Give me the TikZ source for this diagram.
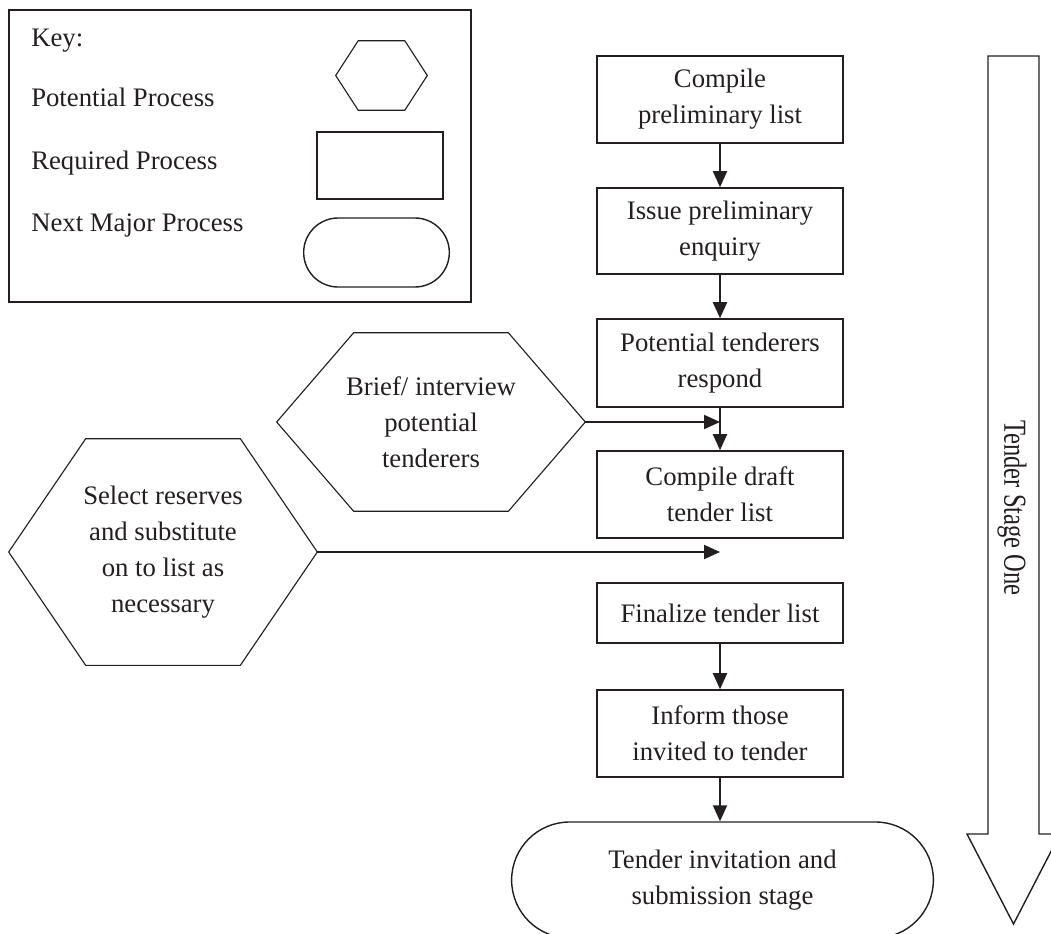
\documentclass[tikz,border=0pt]{standalone}
\usepackage{fontspec}
\setmainfont{Liberation Serif}
\usetikzlibrary{calc,arrows.meta,shapes.misc}
\definecolor{ink}{HTML}{231F20}

\begin{document}
\begin{tikzpicture}[x=0.025cm,y=-0.025cm,
  every node/.style={font=\fontsize{19}{25.5}\selectfont,text=ink},
  req/.style={draw=ink,line width=1.1pt,minimum width=6.15cm,inner sep=0pt,align=center},
  pot/.style={inner sep=0pt,align=center},
  flow/.style={draw=ink,line width=1.4pt,-{Triangle[length=0.4cm,width=0.35cm]}}]

\useasboundingbox (0,0) rectangle (1051,933);

% ---- the key ----
\draw[ink,line width=1pt] (9,10) rectangle (471,302);
\node[anchor=base west,inner sep=0pt] (keytitle) at (31,47) {Key:};
\node[anchor=base west,inner sep=0pt] (keypot) at (31,107) {Potential Process};
\node[anchor=base west,inner sep=0pt] (keyreq) at (31,169) {Required Process};
\node[anchor=base west,inner sep=0pt] (keynext) at (31,231) {Next Major Process};
\node[pot,minimum width=2.275cm,minimum height=1.725cm] (keyhex) at (381.5,75.5) {};
\node[draw=ink,line width=1pt,minimum width=3.15cm,minimum height=1.675cm] (keyrect) at (380,165.5) {};
\node[draw=ink,line width=1pt,rounded rectangle,minimum width=3.875cm,minimum height=1.725cm] (keystadium) at (376.5,252.5) {};

% ---- the required processes, top to bottom ----
\node[req,minimum height=2.175cm] (compile) at (720,99.5) {Compile\\preliminary list};
\node[req,minimum height=2.15cm] (issue) at (720,231) {Issue preliminary\\enquiry};
\node[req,minimum height=2.2cm] (respond) at (720,363) {Potential tenderers\\respond};
\node[req,minimum height=2.175cm] (draft) at (720,494.5) {Compile draft\\tender list};
\node[req,minimum height=1.5cm] (finalize) at (720,613) {Finalize tender list};
\node[req,minimum height=2.175cm] (inform) at (720,733.5) {Inform those\\invited to tender};
\node[draw=ink,line width=1pt,rounded rectangle,minimum width=10.775cm,minimum height=2.9cm,align=center] (invitation) at (722.5,880) {Tender invitation and\\submission stage};

% ---- the potential processes (hexagons) ----
\node[pot,minimum width=7.7cm,minimum height=4.45cm] (brief) at (431,422) {Brief/ interview\\potential\\tenderers};
\node[pot,minimum width=7.7cm,minimum height=5.65cm] (reserves) at (163,552) {Select reserves\\and substitute\\on to list as\\necessary};
\foreach \h/\d in {keyhex/22.5,brief/77,reserves/77}{
  \draw[ink,line width=0.8pt,line join=miter] (\h.west) -- ($(\h.north west)+(\d,0)$)
    -- ($(\h.north east)+(-\d,0)$) -- (\h.east) -- ($(\h.south east)+(-\d,0)$)
    -- ($(\h.south west)+(\d,0)$) -- cycle;}

% ---- connectors ----
\draw[flow] (compile) -- (issue);
\draw[flow] (issue) -- (respond);
\draw[flow] (respond) -- (draft);
\draw[flow] (brief.east) -- (brief.east -| respond.south);
\draw[flow] (reserves.east) -- (reserves.east -| draft.south);
\draw[flow] (finalize) -- (inform);
\draw[flow] (inform.south) -- (inform.south |- invitation.north);

% ---- the stage arrow ----
\draw[ink,line width=1pt,line join=miter] (988,56) -- (1039,56) -- (1039,834) -- (1060,834)
  -- (1013.5,924) -- (967,834) -- (988,834) -- cycle;
\node[rotate=-90] (stage) at (1012,508) {\scalebox{0.92}[1.2]{Tender Stage One}};

\end{tikzpicture}
\end{document}
